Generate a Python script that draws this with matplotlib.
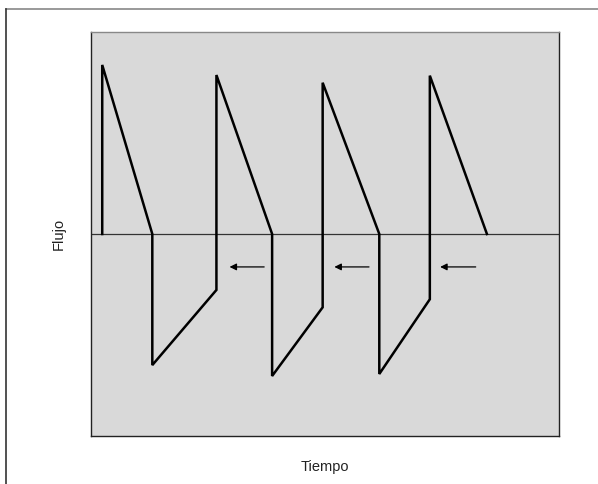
import matplotlib
matplotlib.use("Agg")
import matplotlib.pyplot as plt
from matplotlib.patches import Rectangle

plt.rcParams['font.family'] = ['Liberation Sans', 'DejaVu Sans']

# Flow waveform (time, flow) vertices
time = [0.24, 0.24, 1.31, 1.31, 2.68, 2.68, 3.87, 3.87, 4.95, 4.95, 6.16, 6.16, 7.24, 7.24, 8.46]
flow = [0.0, 8.37, 0.0, -6.49, -2.77, 7.87, 0.0, -7.03, -3.63, 7.49, 0.0, -6.93, -3.23, 7.84, 0.0]

# Arrows (start x, end x, y)
arrow_start = [3.70, 5.94, 8.22]
arrow_end = [2.96, 5.20, 7.46]
arrow_y = [-1.63, -1.63, -1.63]

fig = plt.figure(figsize=(5.98, 4.84), dpi=100)
ax = fig.add_axes([91/598, 48/484, 468/598, 404/484])
ax.set_facecolor('#d9d9d9')
ax.set_xlim(0, 10)
ax.set_ylim(-10, 10)

ax.axhline(0, color='#333333', lw=0.9, zorder=1)
ax.plot(time, flow, color='black', lw=1.8, solid_joinstyle='miter', zorder=3)

for xs, xe, y in zip(arrow_start, arrow_end, arrow_y):
    ax.annotate('', xy=(xe, y), xytext=(xs, y),
                arrowprops=dict(arrowstyle='-|>', color='black', lw=0.9,
                                mutation_scale=10, shrinkA=0, shrinkB=0))

ax.set_xticks([])
ax.set_yticks([])
for s in ['left', 'right', 'bottom']:
    ax.spines[s].set_color('#222222')
    ax.spines[s].set_linewidth(1.0)
ax.spines['top'].set_color('#888888')
ax.spines['top'].set_linewidth(1.0)

ax.set_xlabel('Tiempo', fontsize=10.5, labelpad=17, color='#222222')
ax.set_ylabel('Flujo', fontsize=10.5, labelpad=18, color='#222222')

# Outer frame
fig.add_artist(plt.Line2D([6/598, 1.01], [1 - 9/484, 1 - 9/484], transform=fig.transFigure,
                          color='#888888', lw=1.2))
fig.add_artist(plt.Line2D([6/598, 6/598], [-0.01, 1 - 9/484], transform=fig.transFigure,
                          color='#333333', lw=1.2))

fig.savefig('out.png', dpi=100)
